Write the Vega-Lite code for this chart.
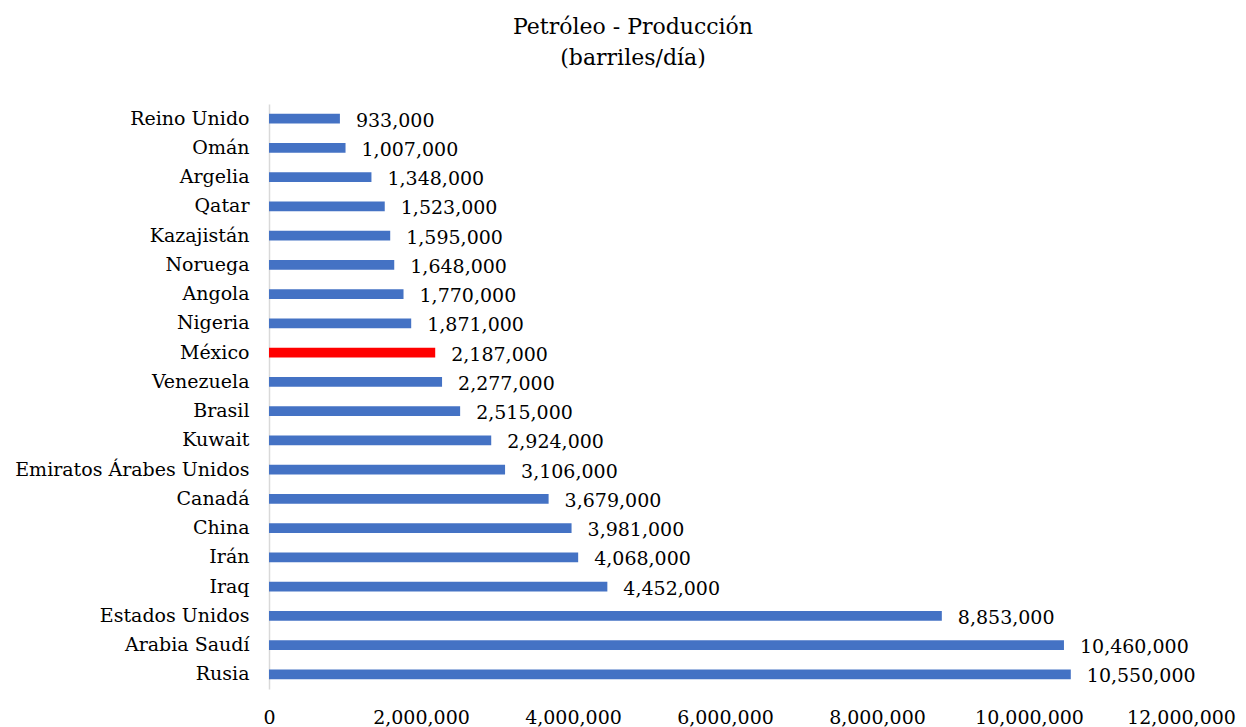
{
  "$schema": "https://vega.github.io/schema/vega-lite/v6.json",
  "width": 912,
  "height": 585,
  "autosize": {"type": "none"},
  "padding": {"left": 269, "top": 104, "right": 65, "bottom": 38},
  "background": "white",
  "config": {
    "font": "DejaVu Serif",
    "view": {"stroke": null}
  },
  "title": {
    "text": ["Petróleo - Producción", "(barriles/día)"],
    "font": "DejaVu Serif",
    "fontSize": 22,
    "fontWeight": "normal",
    "color": "#000000",
    "anchor": "middle",
    "dx": -92,
    "offset": 34,
    "lineHeight": 31
  },
  "data": {
    "values": [
      {"pais": "Reino Unido", "valor": 933000},
      {"pais": "Omán", "valor": 1007000},
      {"pais": "Argelia", "valor": 1348000},
      {"pais": "Qatar", "valor": 1523000},
      {"pais": "Kazajistán", "valor": 1595000},
      {"pais": "Noruega", "valor": 1648000},
      {"pais": "Angola", "valor": 1770000},
      {"pais": "Nigeria", "valor": 1871000},
      {"pais": "México", "valor": 2187000},
      {"pais": "Venezuela", "valor": 2277000},
      {"pais": "Brasil", "valor": 2515000},
      {"pais": "Kuwait", "valor": 2924000},
      {"pais": "Emiratos Árabes Unidos", "valor": 3106000},
      {"pais": "Canadá", "valor": 3679000},
      {"pais": "China", "valor": 3981000},
      {"pais": "Irán", "valor": 4068000},
      {"pais": "Iraq", "valor": 4452000},
      {"pais": "Estados Unidos", "valor": 8853000},
      {"pais": "Arabia Saudí", "valor": 10460000},
      {"pais": "Rusia", "valor": 10550000}
    ]
  },
  "encoding": {
    "y": {
      "field": "pais",
      "type": "nominal",
      "sort": "x",
      "title": null,
      "scale": {"paddingInner": 0.66, "paddingOuter": 0.33},
      "axis": {
        "domain": true,
        "domainColor": "#D9D9D9",
        "domainWidth": 1.5,
        "ticks": false,
        "labelFont": "DejaVu Serif",
        "labelFontSize": 19,
        "labelFontWeight": "normal",
        "labelColor": "#000000",
        "labelPadding": 20,
        "labelLimit": 400
      }
    },
    "x": {
      "field": "valor",
      "type": "quantitative",
      "title": null,
      "scale": {"domain": [0, 12000000], "nice": false},
      "axis": {
        "values": [0, 2000000, 4000000, 6000000, 8000000, 10000000, 12000000],
        "format": ",.0f",
        "domain": false,
        "ticks": false,
        "grid": false,
        "labelFont": "DejaVu Serif",
        "labelFontSize": 19,
        "labelFontWeight": "normal",
        "labelColor": "#000000",
        "labelPadding": 19,
        "labelFlush": false
      }
    }
  },
  "layer": [
    {
      "mark": {"type": "bar"},
      "encoding": {
        "color": {
          "condition": {"test": "datum.pais === 'México'", "value": "#FF0000"},
          "value": "#4472C4"
        }
      }
    },
    {
      "mark": {
        "type": "text",
        "align": "left",
        "baseline": "middle",
        "dx": 16,
        "dy": 2,
        "font": "DejaVu Serif",
        "fontSize": 19,
        "color": "#000000"
      },
      "encoding": {
        "text": {"field": "valor", "type": "quantitative", "format": ",.0f"}
      }
    }
  ]
}
